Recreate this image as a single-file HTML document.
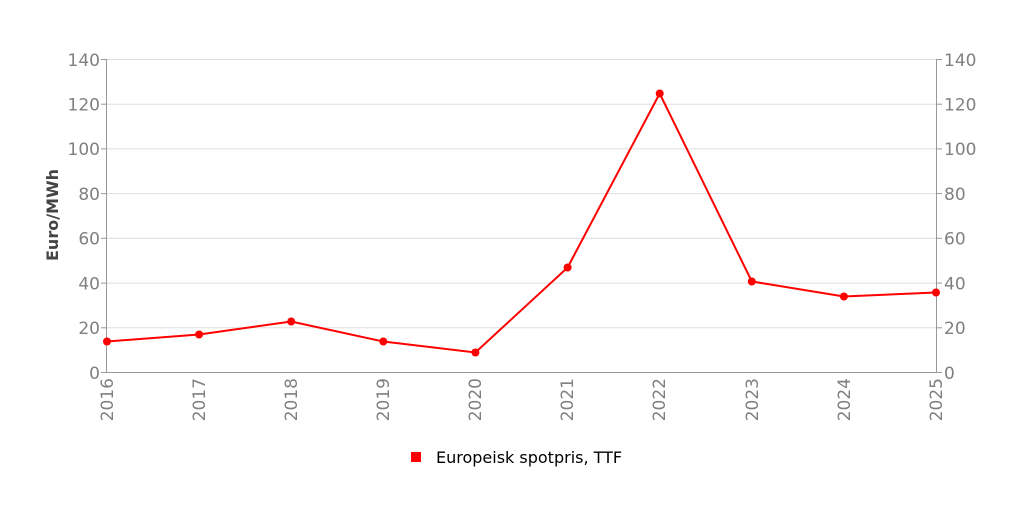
<!DOCTYPE html>
<html><head><meta charset="utf-8"><style>
body{margin:0;background:#fff;}
svg{display:block;font-family:"DejaVu Sans","Liberation Sans",sans-serif;}
</style></head><body>
<svg width="1024" height="510" viewBox="0 0 1024 510">
<g stroke="#dddddd" stroke-width="1">
<line x1="107" y1="59.5" x2="936" y2="59.5"/>
<line x1="107" y1="104.2" x2="936" y2="104.2"/>
<line x1="107" y1="148.9" x2="936" y2="148.9"/>
<line x1="107" y1="193.6" x2="936" y2="193.6"/>
<line x1="107" y1="238.3" x2="936" y2="238.3"/>
<line x1="107" y1="283.1" x2="936" y2="283.1"/>
<line x1="107" y1="327.8" x2="936" y2="327.8"/>
</g>
<g stroke="#999" stroke-width="1">
<line x1="106.5" y1="59" x2="106.5" y2="372"/>
<line x1="936.5" y1="59" x2="936.5" y2="372"/>
<line x1="106" y1="372.5" x2="937" y2="372.5"/>
<line x1="101" y1="59.5" x2="107" y2="59.5"/><line x1="101" y1="104.2" x2="107" y2="104.2"/><line x1="101" y1="148.9" x2="107" y2="148.9"/><line x1="101" y1="193.6" x2="107" y2="193.6"/><line x1="101" y1="238.3" x2="107" y2="238.3"/><line x1="101" y1="283.1" x2="107" y2="283.1"/><line x1="101" y1="327.8" x2="107" y2="327.8"/><line x1="101" y1="372.5" x2="107" y2="372.5"/>
<line x1="936" y1="59.5" x2="942" y2="59.5"/><line x1="936" y1="104.2" x2="942" y2="104.2"/><line x1="936" y1="148.9" x2="942" y2="148.9"/><line x1="936" y1="193.6" x2="942" y2="193.6"/><line x1="936" y1="238.3" x2="942" y2="238.3"/><line x1="936" y1="283.1" x2="942" y2="283.1"/><line x1="936" y1="327.8" x2="942" y2="327.8"/><line x1="936" y1="372.5" x2="942" y2="372.5"/>
</g>
<g fill="#808080" font-size="17" text-anchor="end">
<text x="100" y="66">140</text><text x="100" y="110.5">120</text><text x="100" y="155">100</text><text x="100" y="200">80</text><text x="100" y="244.5">60</text><text x="100" y="289.5">40</text><text x="100" y="334">20</text><text x="100" y="379">0</text>
</g>
<g fill="#808080" font-size="17" text-anchor="start">
<text x="944" y="66">140</text><text x="944" y="110.5">120</text><text x="944" y="155">100</text><text x="944" y="200">80</text><text x="944" y="244.5">60</text><text x="944" y="289.5">40</text><text x="944" y="334">20</text><text x="944" y="379">0</text>
</g>
<g fill="#808080" font-size="17" text-anchor="end">
<text transform="translate(113,378) rotate(-90)">2016</text>
<text transform="translate(205,378) rotate(-90)">2017</text>
<text transform="translate(297,378) rotate(-90)">2018</text>
<text transform="translate(389,378) rotate(-90)">2019</text>
<text transform="translate(481,378) rotate(-90)">2020</text>
<text transform="translate(573,378) rotate(-90)">2021</text>
<text transform="translate(665,378) rotate(-90)">2022</text>
<text transform="translate(758,378) rotate(-90)">2023</text>
<text transform="translate(850,378) rotate(-90)">2024</text>
<text transform="translate(942,378) rotate(-90)">2025</text>
</g>
<text transform="translate(58,215) rotate(-90)" text-anchor="middle" font-size="16" font-weight="bold" fill="#444">Euro/MWh</text>
<polyline fill="none" stroke="#ff0000" stroke-width="2" points="107,341.5 199.1,334.5 291.2,321.5 383.3,341.5 475.4,352.5 567.6,267.5 659.7,93.5 751.8,281.5 843.9,296.5 936,292.5"/>
<g fill="#ff0000">
<circle cx="107" cy="341.5" r="4"/><circle cx="199.1" cy="334.5" r="4"/><circle cx="291.2" cy="321.5" r="4"/><circle cx="383.3" cy="341.5" r="4"/><circle cx="475.4" cy="352.5" r="4"/><circle cx="567.6" cy="267.5" r="4"/><circle cx="659.7" cy="93.5" r="4"/><circle cx="751.8" cy="281.5" r="4"/><circle cx="843.9" cy="296.5" r="4"/><circle cx="936" cy="292.5" r="4"/>
<rect x="411" y="452" width="10" height="10"/>
</g>
<text x="436" y="463" font-size="16" fill="#000">Europeisk spotpris, TTF</text>
</svg>
</body></html>
